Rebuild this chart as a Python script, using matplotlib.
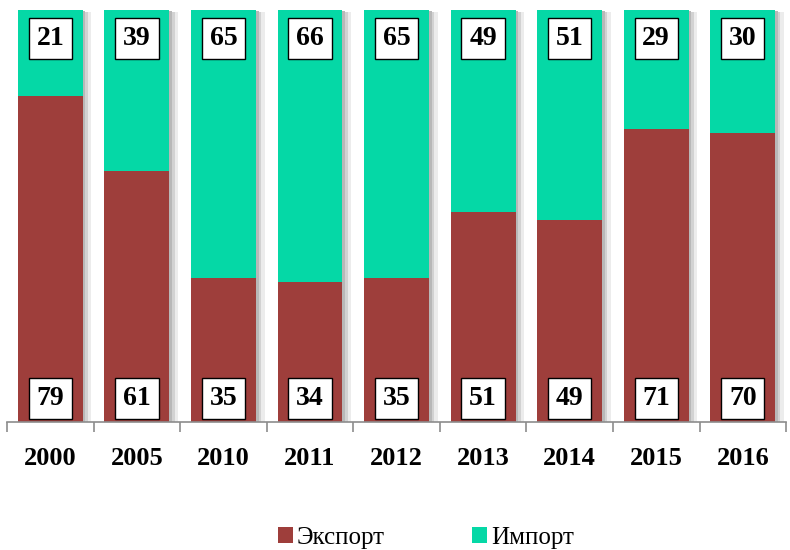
import matplotlib
matplotlib.use("Agg")
import matplotlib.pyplot as plt
import numpy as np
from matplotlib.patches import Patch

years = ["2000", "2005", "2010", "2011", "2012", "2013", "2014", "2015", "2016"]
export = [79, 61, 35, 34, 35, 51, 49, 71, 70]
imports = [21, 39, 65, 66, 65, 49, 51, 29, 30]

red = "#9E3E3B"
teal = "#05D8A6"

plt.rcParams['font.family'] = ['Liberation Serif', 'DejaVu Serif']

fig = plt.figure(figsize=(7.9, 5.5), dpi=100)
ax = fig.add_axes([0.009, 0.233, 0.986, 0.749])

x = np.arange(len(years))
w = 0.75
tot = np.array(export) + np.array(imports)
# shadows
ax.bar(x + 0.10, tot, width=w, bottom=-0.6, color="#ececec", zorder=1)
ax.bar(x + 0.06, tot, width=w, bottom=-0.4, color="#d2d2d2", zorder=1)
ax.bar(x + 0.03, tot, width=w, bottom=-0.2, color="#b8b8b8", zorder=1)
ax.bar(x, export, width=w, color=red, zorder=2)
ax.bar(x, imports, bottom=export, width=w, color=teal, zorder=2)

box = dict(boxstyle="square,pad=0.28", fc="white", ec="black", lw=1.0)
for i in range(len(years)):
    ax.text(x[i], 5.7, str(export[i]), ha="center", va="center", fontsize=20,
            fontweight="bold", bbox=box, zorder=5)
    ax.text(x[i], 93.0, str(imports[i]), ha="center", va="center", fontsize=20,
            fontweight="bold", bbox=box, zorder=5)

ax.set_xlim(-0.5, len(years) - 0.5)
ax.set_ylim(0, 100)
for s in ["top", "right", "left"]:
    ax.spines[s].set_visible(False)
ax.spines["bottom"].set_color("#8c8c8c")
ax.spines["bottom"].set_linewidth(1.2)
ax.set_yticks([])
ax.set_xticks(x)
ax.set_xticklabels(years, fontsize=19, fontweight="bold")
ax.tick_params(axis="x", which="major", length=0, pad=18)
ax.set_xticks(np.arange(-0.5, len(years)), minor=True)
ax.tick_params(axis="x", which="minor", length=7, color="#8c8c8c", width=1.2)

handles = [Patch(facecolor=red, label="Экспорт"), Patch(facecolor=teal, label="Импорт")]
fig.legend(handles=handles, loc="center", bbox_to_anchor=(0.539, 0.022), ncol=2,
           frameon=False, fontsize=18, handlelength=0.6, handleheight=0.6,
           handletextpad=0.15, columnspacing=3.5)

fig.savefig("out.png", dpi=100)
